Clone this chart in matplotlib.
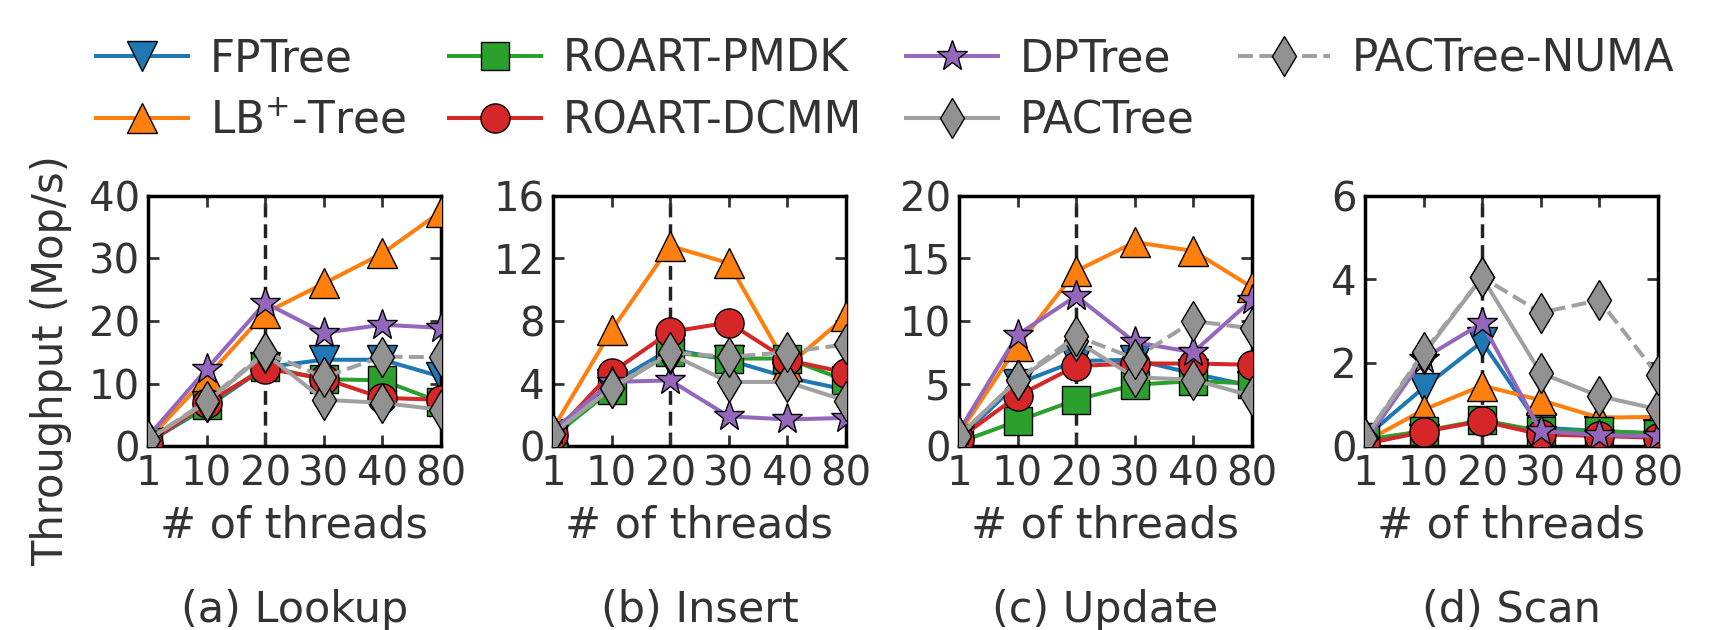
import matplotlib
matplotlib.use('Agg')
import matplotlib.pyplot as plt

threads = ['1', '10', '20', '30', '40', '80']
names = ['FPTree', 'LB$^{+}$-Tree', 'ROART-PMDK', 'ROART-DCMM', 'DPTree', 'PACTree', 'PACTree-NUMA']
titles = ['(a) Lookup', '(b) Insert', '(c) Update', '(d) Scan']

# throughput (Mop/s), one list per index, order as in names
lookup = [
    [0.6, 6.2, 12.6, 13.8, 13.8, 11.1],
    [1.0, 11.0, 21.3, 26.0, 30.8, 37.5],
    [0.6, 6.5, 12.7, 10.7, 10.5, 7.0],
    [0.5, 6.9, 12.4, 10.8, 7.7, 7.4],
    [1.5, 12.3, 22.9, 18.1, 19.4, 18.9],
    [1.0, 7.0, 14.8, 7.4, 6.9, 5.8],
    [1.0, 7.2, 15.0, 11.0, 14.3, 14.2],
]
insert = [
    [0.8, 4.0, 6.2, 5.5, 4.4, 3.6],
    [1.1, 7.4, 12.8, 11.7, 5.1, 8.3],
    [0.6, 3.6, 6.0, 5.6, 5.6, 4.2],
    [0.7, 4.7, 7.3, 7.9, 5.5, 4.7],
    [1.0, 4.1, 4.2, 1.9, 1.7, 1.8],
    [0.8, 3.7, 5.9, 4.1, 4.1, 2.9],
    [0.8, 3.7, 6.0, 5.7, 6.0, 6.5],
]
update = [
    [0.6, 5.0, 6.8, 6.9, 5.8, 4.8],
    [1.0, 8.0, 14.0, 16.3, 15.6, 12.7],
    [0.3, 2.0, 3.7, 4.9, 5.2, 5.0],
    [0.6, 4.0, 6.4, 6.6, 6.6, 6.5],
    [1.2, 8.9, 12.0, 8.3, 7.5, 11.7],
    [0.8, 5.3, 8.4, 5.5, 5.3, 4.0],
    [0.8, 5.3, 8.8, 7.0, 10.0, 9.4],
]
scan = [
    [0.2, 1.4, 2.5, 0.44, 0.36, 0.3],
    [0.1, 0.87, 1.45, 1.1, 0.68, 0.7],
    [0.15, 0.36, 0.62, 0.36, 0.36, 0.3],
    [0.05, 0.34, 0.6, 0.28, 0.24, 0.2],
    [0.1, 2.1, 2.95, 0.36, 0.26, 0.24],
    [0.2, 2.2, 4.05, 1.75, 1.2, 0.88],
    [0.2, 2.25, 4.05, 3.2, 3.5, 1.7],
]
yticks = [[0, 10, 20, 30, 40], [0, 4, 8, 12, 16], [0, 5, 10, 15, 20], [0, 2, 4, 6]]

colors = ['#1f77b4', '#ff7f0e', '#2ca02c', '#d62728', '#9467bd', '#a0a0a0', '#a0a0a0']
markers = ['v', '^', 's', 'o', '*', 'd', 'd']
styles = ['-', '-', '-', '-', '-', '-', '--']
faces = ['#1f77b4', '#ff7f0e', '#2ca02c', '#d62728', '#9467bd', '#919191', '#919191']
msizes = [21, 21, 20, 21, 23, 20, 20]

plt.rcParams['font.family'] = 'DejaVu Sans'
plt.rcParams['text.color'] = '#333333'
plt.rcParams['xtick.color'] = '#333333'
plt.rcParams['ytick.color'] = '#333333'
plt.rcParams['axes.labelcolor'] = '#333333'

fig = plt.figure(figsize=(17.15, 6.3), dpi=100)
lefts = [0.0863, 0.3224, 0.5592, 0.7959]
data = [lookup, insert, update, scan]
xs = list(range(len(threads)))

for k in range(4):
    ax = fig.add_axes([lefts[k], 0.292, 0.1708, 0.397])
    ax.axvline(2, color='#222222', ls=(0, (4, 2)), lw=2.5, zorder=1)
    for i in range(len(names)):
        ax.plot(xs, data[k][i], ls=styles[i], color=colors[i], lw=2.9,
                marker=markers[i], ms=msizes[i], mfc=faces[i], mec='black',
                mew=1.0, label=names[i], zorder=2 + i)
    ax.set_xlim(0, 5)
    ax.set_ylim(yticks[k][0], yticks[k][-1])
    ax.set_yticks(yticks[k])
    ax.set_xticks(xs)
    ax.set_xticklabels(threads)
    ax.tick_params(direction='in', top=True, right=True, length=8, width=2,
                   labelsize=29, pad=6)
    for sp in ax.spines.values():
        sp.set_linewidth(2.5)
        sp.set_color('black')
    ax.text(0.5, -0.364, '# of threads', transform=ax.transAxes, ha='center',
            va='baseline', fontsize=31)
    ax.text(0.5, -0.704, titles[k], transform=ax.transAxes, ha='center',
            va='baseline', fontsize=31)

fig.text(0.030, 0.427, 'Throughput (Mop/s)', rotation=90, ha='center',
         va='center', fontsize=30)

h, l = ax.get_legend_handles_labels()
fig.legend(h, l, ncol=4, loc='upper left', bbox_to_anchor=(0.056, 0.94),
           frameon=False, fontsize=31.5, handlelength=2.1, handletextpad=0.5,
           columnspacing=1.0, labelspacing=0.42, borderpad=0, borderaxespad=0)

fig.savefig('out.png', dpi=100)
